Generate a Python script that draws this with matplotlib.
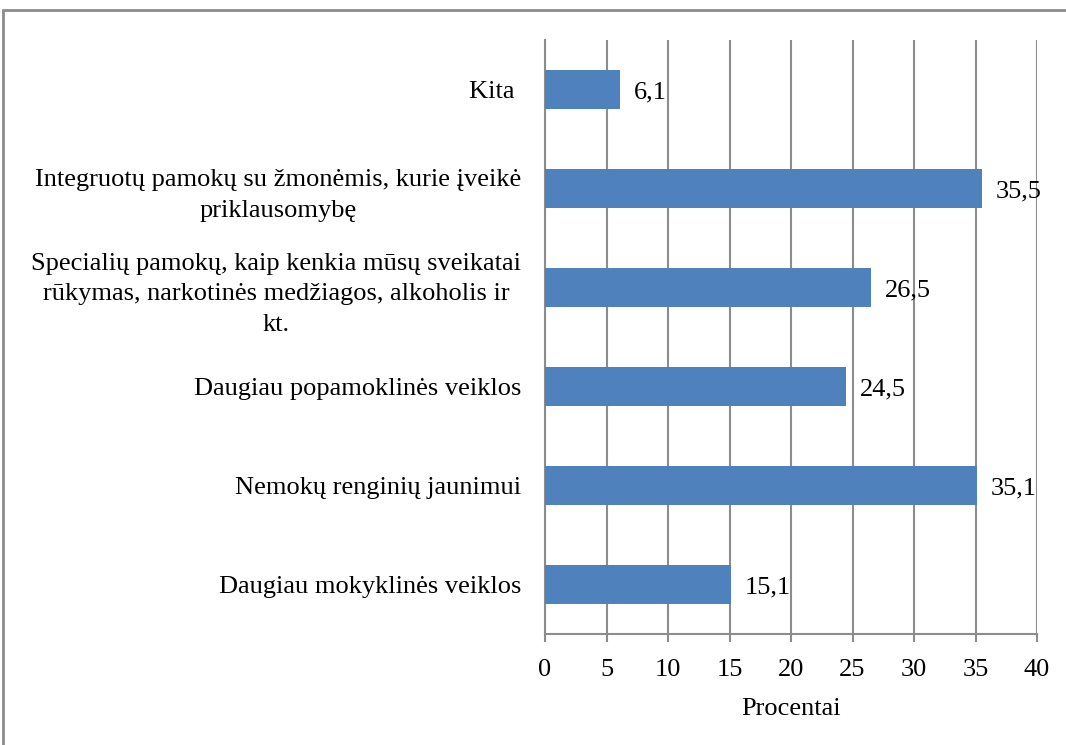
import matplotlib.pyplot as plt
from matplotlib.patches import Rectangle

# duomenys (nuo apačios į viršų)
categories = [
    "Daugiau mokyklinės veiklos",
    "Nemokų renginių jaunimui",
    "Daugiau popamoklinės veiklos",
    "Specialių pamokų, kaip kenkia mūsų sveikatai\nrūkymas, narkotinės medžiagos, alkoholis ir\nkt.",
    "Integruotų pamokų su žmonėmis, kurie įveikė\npriklausomybę",
    "Kita ",
]
values = [15.1, 35.1, 24.5, 26.5, 35.5, 6.1]
value_labels = ["15,1", "35,1", "24,5", "26,5", "35,5", "6,1"]
x_ticks = [0, 5, 10, 15, 20, 25, 30, 35, 40]

plt.rcParams['font.family'] = ['Liberation Serif', 'DejaVu Serif']
fs = 19

fig = plt.figure(figsize=(10.66, 7.45), dpi=100)
ax = fig.add_axes([545 / 1066, 1 - 634 / 745, 492 / 1066, 594 / 745])

grid_col = '#8c8c8c'
ypos = range(len(categories))
ax.barh(ypos, values, height=0.4, color='#4f81bd', zorder=3)

for y, v, lab in zip(ypos, values, value_labels):
    ax.annotate(lab, (v, y), xytext=(10, -2), textcoords='offset points',
                ha='left', va='center', fontsize=fs, zorder=4)

ax.set_xlim(0, 40)
ax.set_ylim(-0.5, len(categories) - 0.5)
ax.set_xticks(x_ticks)
ax.set_yticks(list(ypos))
ax.set_yticklabels(categories, multialignment='center', fontsize=fs, linespacing=1.5)
ax.tick_params(axis='y', length=0, pad=17)
ax.tick_params(axis='x', length=6, color=grid_col, width=1.5, labelsize=fs, pad=12)
ax.grid(axis='x', color=grid_col, linewidth=1.5, zorder=0)

for side in ['top', 'right']:
    ax.spines[side].set_visible(False)
for side in ['left', 'bottom']:
    ax.spines[side].set_color(grid_col)
    ax.spines[side].set_linewidth(1.5)

ax.set_xlabel("Procentai", fontsize=fs, labelpad=12)

# rėmelis aplink paveikslą
fig.patches.append(Rectangle((3 / 1066, -0.05), 1.2, 1 - 10 / 745 + 0.05,
                             transform=fig.transFigure, fill=False,
                             edgecolor='#8c8c8c', linewidth=2))

fig.savefig("out.png", dpi=100)
